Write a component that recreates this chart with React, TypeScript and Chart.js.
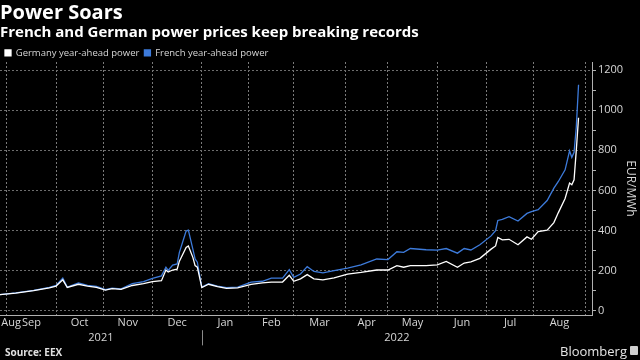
import React, { useEffect, useRef } from 'react';
import { Chart, registerables } from 'chart.js';

Chart.register(...registerables);

// ---- Data ----
const monthLabels = ['Aug', 'Sep', 'Oct', 'Nov', 'Dec', 'Jan', 'Feb', 'Mar', 'Apr', 'May', 'Jun', 'Jul', 'Aug'];
// trading days in each month shown (first month is partial)
const monthTradingDays = [3, 22, 21, 22, 22, 21, 20, 23, 19, 22, 22, 21, 23];
const yearLabels = ['2021', '2022'];
const yearFirstMonthIndex = [0, 5];
const yTickValues = [0, 100, 200, 300, 400, 500, 600, 700, 800, 900, 1000, 1100, 1200];

// trading-day index (from 2021-08-27) for each sampled point
const tradingDay = [0, 7, 15, 22, 25, 28, 30, 35, 39, 43, 47, 50, 54, 59, 64, 68, 72, 74, 75, 77,
  79, 80, 83, 84, 86, 87, 88, 90, 93, 97, 101, 106, 112, 117, 121, 126, 129, 131, 134, 137,
  140, 144, 149, 155, 161, 168, 173, 177, 180, 183, 190, 195, 199, 204, 207, 210, 214, 219, 221, 222,
  224, 227, 231, 235, 237, 240, 244, 247, 249, 252, 254, 255, 256, 257, 258];

const germany = [81, 89, 101, 115, 124, 155, 117, 133, 124, 118, 104, 111, 108, 127, 136, 146, 151, 204, 194, 204,
  208, 248, 316, 324, 267, 226, 218, 117, 133, 121, 113, 115, 132, 140, 144, 144, 178, 148, 160, 181,
  160, 155, 165, 184, 192, 204, 204, 226, 218, 226, 226, 230, 247, 218, 239, 245, 262, 308, 324, 366,
  354, 357, 330, 369, 357, 395, 403, 440, 490, 560, 637, 629, 653, 801, 962];

const france = [81, 90, 103, 118, 127, 164, 119, 140, 127, 122, 106, 114, 110, 136, 146, 162, 175, 218, 202, 229,
  234, 292, 398, 403, 308, 259, 243, 119, 136, 124, 116, 119, 144, 148, 164, 164, 206, 167, 184, 221,
  197, 190, 201, 213, 230, 259, 256, 295, 292, 311, 305, 303, 311, 288, 311, 304, 330, 374, 400, 451,
  456, 470, 448, 486, 495, 505, 550, 612, 645, 703, 798, 765, 790, 916, 1127];

// ---- Derived axis positions ----
const boundaries: number[] = [0];
monthTradingDays.forEach((d) => boundaries.push(boundaries[boundaries.length - 1] + d));
const xMax = boundaries[boundaries.length - 1] + 3;
const gridDays = boundaries.slice(1);
const monthLabelDays = monthLabels.map((_, i) => {
  const mid = (boundaries[i] + boundaries[i + 1]) / 2;
  return i === 0 ? Math.max(mid, 5) : mid;
});
const yearStartDays = yearFirstMonthIndex.map((m) => boundaries[m]);
const yearLabelDays = yearStartDays.map((s, i) => (s + (i + 1 < yearStartDays.length ? yearStartDays[i + 1] : xMax)) / 2);

const GRID_X = '#7a7a7a';
const GRID_Y = '#6e6e6e';
const AXIS = '#b0b0b0';
const TEXT = '#d6d6d6';

const separatorPlugin = {
  id: 'yearSeparator',
  afterDraw(chart: any) {
    const s = chart.scales.xYear;
    if (!s) return;
    const ctx = chart.ctx;
    ctx.save();
    ctx.strokeStyle = '#8a8a8a';
    ctx.lineWidth = 1;
    for (let i = 1; i < yearStartDays.length; i++) {
      const x = Math.round(s.getPixelForValue(yearStartDays[i])) + 0.5;
      ctx.beginPath();
      ctx.moveTo(x, s.top);
      ctx.lineTo(x, s.bottom);
      ctx.stroke();
    }
    ctx.restore();
  },
};

export default function App() {
  const ref = useRef<HTMLCanvasElement | null>(null);

  useEffect(() => {
    if (!ref.current) return;
    Chart.defaults.font.family = '"Open Sans", "DejaVu Sans", sans-serif';
    const chart = new Chart(ref.current, {
      type: 'line',
      data: {
        datasets: [
          {
            label: 'Germany year-ahead power',
            data: tradingDay.map((d, i) => ({ x: d, y: germany[i] })),
            borderColor: '#ffffff',
            backgroundColor: '#ffffff',
            borderWidth: 1.3,
            pointRadius: 0,
            xAxisID: 'x',
            yAxisID: 'y',
          },
          {
            label: 'French year-ahead power',
            data: tradingDay.map((d, i) => ({ x: d, y: france[i] })),
            borderColor: '#3d7bdb',
            backgroundColor: '#3d7bdb',
            borderWidth: 1.3,
            pointRadius: 0,
            xAxisID: 'x',
            yAxisID: 'y',
          },
        ],
      },
      options: {
        responsive: false,
        animation: false,
        layout: { padding: { top: 0, left: 0, right: 0, bottom: 14.6 } },
        plugins: {
          tooltip: { enabled: false },
          title: {
            display: true,
            text: 'Power Soars',
            align: 'start',
            color: '#ffffff',
            font: { size: 20, weight: 'bold', lineHeight: 1.1 },
            padding: { top: 2, bottom: 0 },
          },
          subtitle: {
            display: true,
            text: 'French and German power prices keep breaking records',
            align: 'start',
            color: '#ffffff',
            font: { size: 15, weight: 'bold', lineHeight: 1.0 },
            padding: { top: 1, bottom: 3.2 },
          },
          legend: {
            display: true,
            position: 'top',
            align: 'start',
            maxHeight: 18.8,
            labels: {
              color: TEXT,
              boxWidth: 6,
              boxHeight: 6,
              padding: 5,
              font: { size: 9.5 },
            },
          },
        },
        scales: {
          x: {
            type: 'linear',
            position: 'bottom',
            min: 0,
            max: xMax,
            weight: 0,
            afterBuildTicks: (s: any) => {
              s.ticks = gridDays.map((v) => ({ value: v }));
            },
            ticks: { display: false },
            grid: { color: GRID_X, lineWidth: 1, drawTicks: false },
            border: { display: true, color: AXIS, width: 1, dash: [2, 2] },
          },
          xMonth: {
            type: 'linear',
            position: 'bottom',
            min: 0,
            max: xMax,
            weight: 1,
            afterBuildTicks: (s: any) => {
              s.ticks = monthLabelDays.map((v) => ({ value: v }));
            },
            ticks: {
              autoSkip: false,
              maxRotation: 0,
              color: TEXT,
              font: { size: 11 },
              padding: 1,
              callback: (_v: any, i: number) => monthLabels[i],
            },
            grid: { display: false, drawTicks: false },
            border: { display: false },
          },
          xYear: {
            type: 'linear',
            position: 'bottom',
            min: 0,
            max: xMax,
            weight: 2,
            afterBuildTicks: (s: any) => {
              s.ticks = yearLabelDays.map((v) => ({ value: v }));
            },
            ticks: {
              autoSkip: false,
              maxRotation: 0,
              color: TEXT,
              font: { size: 11 },
              padding: 1,
              callback: (_v: any, i: number) => yearLabels[i],
            },
            grid: { display: false, drawTicks: false },
            border: { display: false },
          },
          y: {
            type: 'linear',
            position: 'right',
            min: -20,
            max: 1240,
            afterBuildTicks: (s: any) => {
              s.ticks = yTickValues.map((v) => ({ value: v }));
            },
            afterFit: (s: any) => {
              s.width = 48;
            },
            ticks: {
              autoSkip: false,
              color: TEXT,
              font: { size: 11 },
              padding: 2,
              callback: (v: any) => (Number(v) % 200 === 0 ? String(v) : ''),
            },
            grid: {
              color: (c: any) => (c.tick && c.tick.value % 200 === 0 ? GRID_Y : 'rgba(0,0,0,0)'),
              lineWidth: 1,
              drawTicks: true,
              tickLength: 4,
              tickColor: AXIS,
            },
            border: { display: true, color: AXIS, width: 1, dash: [2, 2] },
            title: {
              display: true,
              text: 'EUR/MWh',
              color: TEXT,
              font: { size: 12 },
              padding: { top: 2, bottom: 0 },
            },
          },
        },
      } as any,
      plugins: [separatorPlugin],
    });
    return () => chart.destroy();
  }, []);

  return (
    <div
      style={{
        position: 'fixed',
        left: 0,
        top: 0,
        width: 640,
        height: 360,
        background: '#000',
        overflow: 'hidden',
      }}
    >
      <canvas ref={ref} width={640} height={360} style={{ display: 'block' }} />
      <div
        style={{
          position: 'absolute',
          left: 5,
          top: 346,
          fontFamily: '"Open Sans", sans-serif',
          fontWeight: 'bold',
          fontSize: 10,
          color: '#e0e0e0',
          lineHeight: '12px',
        }}
      >
        Source: EEX
      </div>
      <div
        style={{
          position: 'absolute',
          right: 13,
          top: 343,
          fontFamily: '"Open Sans", sans-serif',
          fontSize: 13,
          color: '#e6e6e6',
          lineHeight: '16px',
        }}
      >
        Bloomberg
      </div>
      <div
        style={{
          position: 'absolute',
          right: 2,
          top: 346,
          width: 8,
          height: 9,
          background: '#cfcfcf',
          borderRadius: 1,
        }}
      />
    </div>
  );
}
